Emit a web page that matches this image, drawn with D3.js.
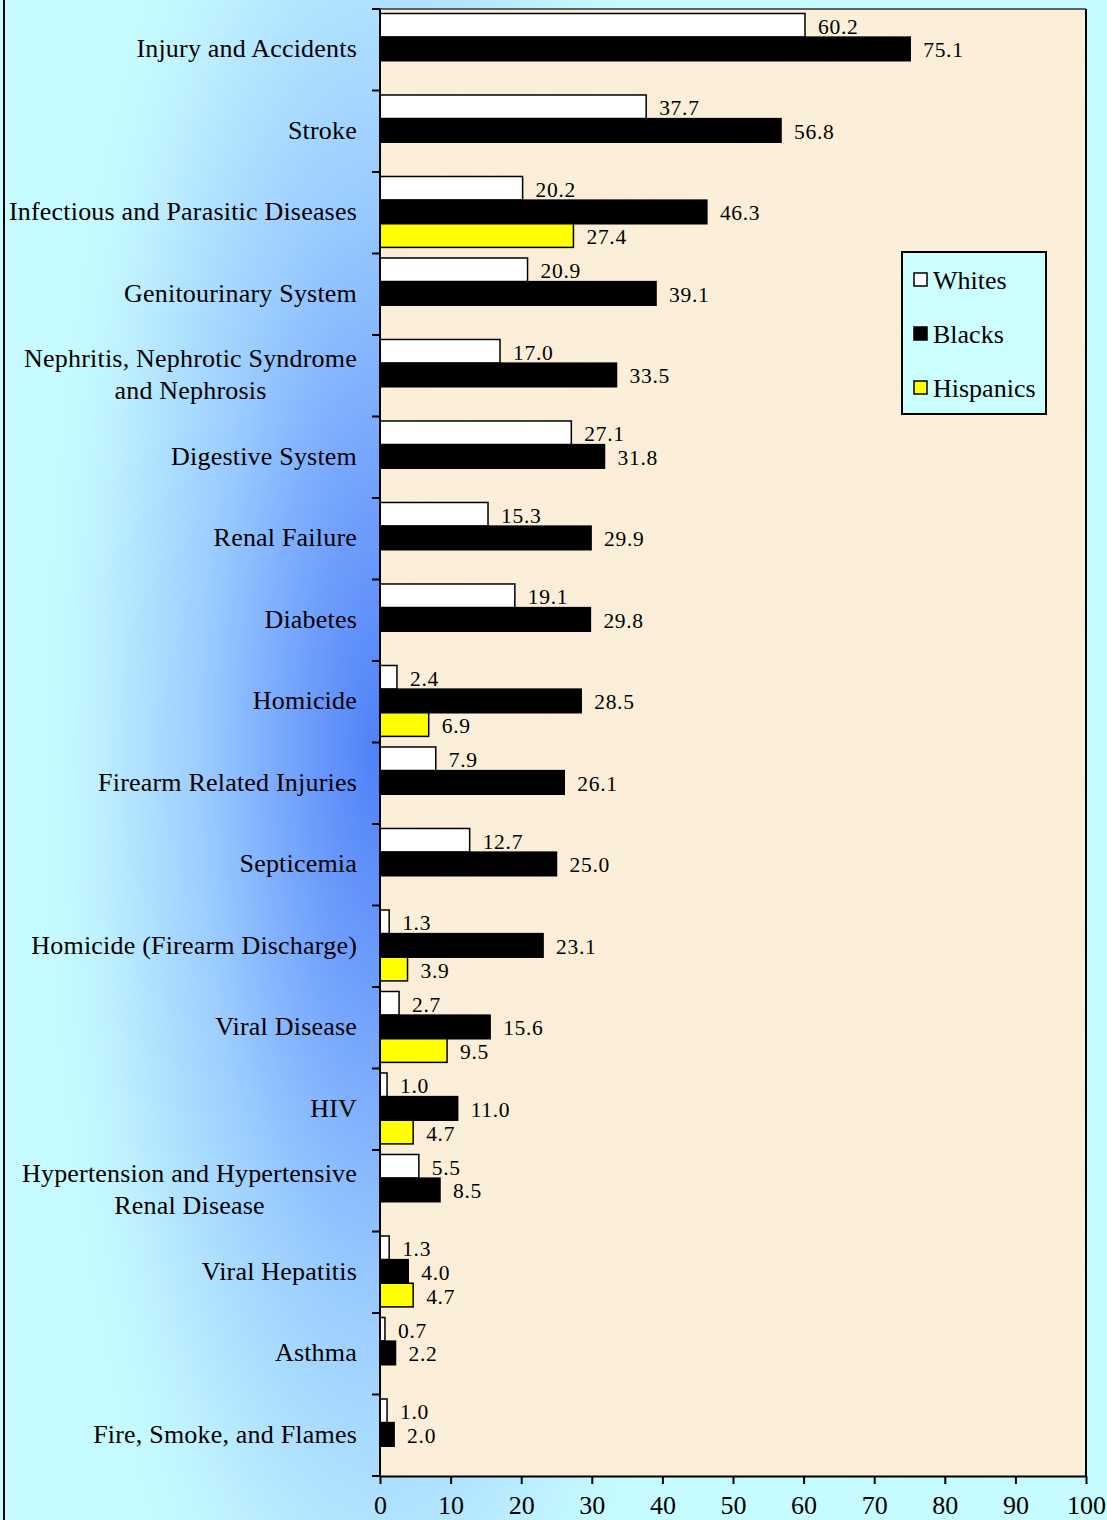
<!DOCTYPE html>
<html>
<head>
<meta charset="utf-8">
<script src="https://cdn.jsdelivr.net/npm/d3@7"></script>
<style>
  html, body { margin: 0; padding: 0; background: #c6fcff; }
  svg { display: block; }
  text { font-family: "Liberation Serif", "Times New Roman", serif; fill: #000; }
</style>
</head>
<body>
<svg id="chart" width="1107" height="1520"></svg>
<script>
const categories = [
  "Injury and Accidents",
  "Stroke",
  "Infectious and Parasitic Diseases",
  "Genitourinary System",
  "Nephritis, Nephrotic Syndrome\nand Nephrosis",
  "Digestive System",
  "Renal Failure",
  "Diabetes",
  "Homicide",
  "Firearm Related Injuries",
  "Septicemia",
  "Homicide (Firearm  Discharge)",
  "Viral Disease",
  "HIV",
  "Hypertension and Hypertensive\nRenal Disease",
  "Viral Hepatitis",
  "Asthma",
  "Fire, Smoke, and Flames"
];
const seriesNames = ["Whites", "Blacks", "Hispanics"];
const whites    = [60.2, 37.7, 20.2, 20.9, 17.0, 27.1, 15.3, 19.1, 2.4, 7.9, 12.7, 1.3, 2.7, 1.0, 5.5, 1.3, 0.7, 1.0];
const blacks    = [75.1, 56.8, 46.3, 39.1, 33.5, 31.8, 29.9, 29.8, 28.5, 26.1, 25.0, 23.1, 15.6, 11.0, 8.5, 4.0, 2.2, 2.0];
const hispanics = [null, null, 27.4, null, null, null, null, null, 6.9, null, null, 3.9, 9.5, 4.7, null, 4.7, null, null];
const xTicks = [0, 10, 20, 30, 40, 50, 60, 70, 80, 90, 100];
const seriesColors = ["#ffffff", "#000000", "#ffff00"];

const svg = d3.select("#chart");
const W = 1107, H = 1520;
const plot = { left: 380, right: 1086, top: 9, bottom: 1476 };

const defs = svg.append("defs");
const glow = defs.append("radialGradient").attr("id", "glow")
  .attr("cx", 0.5).attr("cy", 0.5).attr("r", 0.5);
glow.append("stop").attr("offset", 0).attr("stop-color", "#4f80f7");
glow.append("stop").attr("offset", 0.22).attr("stop-color", "#70a0fc");
glow.append("stop").attr("offset", 0.5).attr("stop-color", "#9ccdff");
glow.append("stop").attr("offset", 0.78).attr("stop-color", "#bdefff");
glow.append("stop").attr("offset", 1).attr("stop-color", "#c6fcff").attr("stop-opacity", 0);

const tex = defs.append("filter").attr("id", "tex")
  .attr("x", 0).attr("y", 0).attr("width", "100%").attr("height", "100%");
tex.append("feTurbulence").attr("type", "fractalNoise").attr("baseFrequency", 0.025)
  .attr("numOctaves", 3).attr("seed", 7).attr("result", "n");
tex.append("feColorMatrix").attr("in", "n").attr("type", "matrix")
  .attr("values", "0 0 0 0 0.95  0 0 0 0 0.85  0 0 0 0 0.70  0 0 0 1.6 -0.6");

// background
svg.append("rect").attr("width", W).attr("height", H).attr("fill", "#c6fcff");
svg.append("rect").attr("x", 20).attr("y", -380).attr("width", 720).attr("height", 2260)
  .attr("fill", "url(#glow)");
svg.append("line").attr("x1", 4).attr("x2", 4).attr("y1", 0).attr("y2", H)
  .attr("stroke", "#000").attr("stroke-width", 2);

// plot area
svg.append("rect").attr("x", plot.left).attr("y", plot.top)
  .attr("width", plot.right - plot.left).attr("height", plot.bottom - plot.top)
  .attr("fill", "#fcefd9");
svg.append("rect").attr("x", plot.left).attr("y", plot.top)
  .attr("width", plot.right - plot.left).attr("height", plot.bottom - plot.top)
  .attr("fill", "#fff").attr("filter", "url(#tex)");

const x = d3.scaleLinear().domain([0, 100]).range([plot.left, plot.right]);
const y = d3.scaleBand().domain(categories).range([plot.top, plot.bottom]).padding(0);
const bw = y.bandwidth();
const ys = d3.scaleBand().domain(seriesNames).range([bw * 0.055, bw * 0.055 + bw * 0.87]).padding(0);

const rows = categories.map((c, i) => ({
  cat: c,
  vals: [whites[i], blacks[i], hispanics[i]]
}));

const g = svg.append("g");
rows.forEach(r => {
  r.vals.forEach((v, si) => {
    if (v === null || v === undefined) return;
    const by = y(r.cat) + ys(seriesNames[si]);
    g.append("rect")
      .attr("x", x(0)).attr("y", by)
      .attr("width", x(v) - x(0)).attr("height", ys.bandwidth())
      .attr("fill", seriesColors[si])
      .attr("stroke", "#000").attr("stroke-width", 1.5);
    g.append("text")
      .attr("x", x(v) + 13).attr("y", by + ys.bandwidth() / 2 + 8.5)
      .attr("font-size", 21.5).attr("letter-spacing", 0.7)
      .text(v.toFixed(1));
  });
});

// category labels
categories.forEach(c => {
  const lines = c.split("\n");
  const cy = y(c) + bw / 2;
  const t = svg.append("g");
  const texts = lines.map((ln, li) => t.append("text")
    .attr("font-size", 26).attr("letter-spacing", 0.2)
    .attr("y", cy + 7.5 + (li - (lines.length - 1) / 2) * 32)
    .text(ln));
  const maxW = d3.max(texts, tt => tt.node().getComputedTextLength());
  texts.forEach(tt => tt.attr("x", 357 - maxW / 2).attr("text-anchor", "middle"));
});

// left axis line with band-boundary ticks
svg.append("line").attr("x1", plot.left).attr("x2", plot.left)
  .attr("y1", plot.top).attr("y2", plot.bottom).attr("stroke", "#000").attr("stroke-width", 2);
svg.selectAll(".ytick").data(d3.range(categories.length + 1)).join("line")
  .attr("x1", plot.left - 8).attr("x2", plot.left)
  .attr("y1", i => plot.top + i * y.step()).attr("y2", i => plot.top + i * y.step())
  .attr("stroke", "#000").attr("stroke-width", 2);

// top and right frame
svg.append("line").attr("x1", plot.left).attr("x2", plot.right)
  .attr("y1", plot.top).attr("y2", plot.top).attr("stroke", "#333").attr("stroke-width", 1.5);
svg.append("line").attr("x1", plot.right).attr("x2", plot.right)
  .attr("y1", plot.top).attr("y2", plot.bottom).attr("stroke", "#000").attr("stroke-width", 2);

// bottom axis
const xAxis = svg.append("g").attr("transform", `translate(0,${plot.bottom})`)
  .call(d3.axisBottom(x).tickValues(xTicks).tickSize(8).tickSizeOuter(0).tickFormat(d3.format("d")));
xAxis.select(".domain").attr("stroke", "#000").attr("stroke-width", 2);
xAxis.selectAll(".tick line").attr("stroke", "#000").attr("stroke-width", 2);
xAxis.selectAll(".tick text")
  .attr("font-family", '"Liberation Serif", "Times New Roman", serif')
  .attr("font-size", 26).attr("fill", "#000").attr("dy", 0).attr("y", 38);

// legend
const lg = svg.append("g");
lg.append("rect").attr("x", 902).attr("y", 252).attr("width", 144).attr("height", 162)
  .attr("fill", "#ccffff").attr("stroke", "#000").attr("stroke-width", 2);
seriesNames.forEach((s, i) => {
  const cy = 280 + i * 54;
  lg.append("rect").attr("x", 914).attr("y", cy - 7).attr("width", 13).attr("height", 13)
    .attr("fill", seriesColors[i]).attr("stroke", "#000").attr("stroke-width", 1.5);
  lg.append("text").attr("x", 933).attr("y", cy + 9).attr("font-size", 26).text(s);
});
</script>
</body>
</html>
